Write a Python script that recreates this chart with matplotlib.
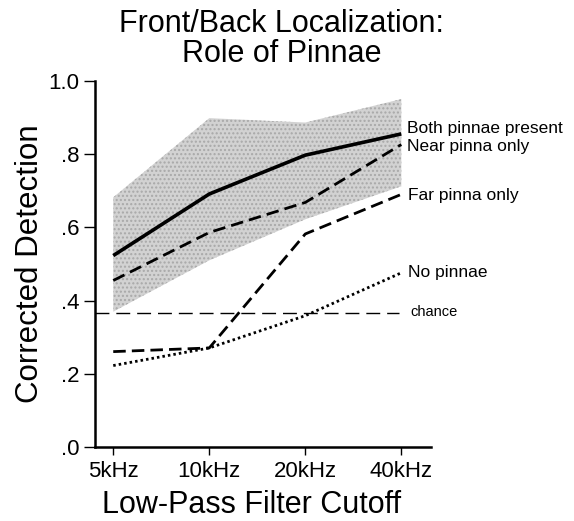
import matplotlib
matplotlib.use('Agg')
import matplotlib.pyplot as plt

plt.rcParams['font.family'] = ['Liberation Sans', 'DejaVu Sans']

# data
cutoffs = ['5kHz', '10kHz', '20kHz', '40kHz']
both_pinnae = [0.523, 0.691, 0.797, 0.855]
near_pinna = [0.455, 0.586, 0.668, 0.826]
far_pinna = [0.261, 0.271, 0.582, 0.690]
no_pinnae = [0.223, 0.271, 0.359, 0.476]
band_upper = [0.682, 0.898, 0.886, 0.950]
band_lower = [0.370, 0.510, 0.622, 0.712]
chance = 0.366
yticks = [0.0, 0.2, 0.4, 0.6, 0.8, 1.0]
ytick_labels = ['.0', '.2', '.4', '.6', '.8', '1.0']

x = list(range(len(cutoffs)))

fig = plt.figure(figsize=(5.74, 5.21), dpi=100)
ax = fig.add_axes([0.1655, 0.1415, 0.5855, 0.7035])

# shaded range for intact pinnae
ax.fill_between(x, band_lower, band_upper, facecolor='#d2d2d2',
                edgecolor='#a8a8a8', hatch='....', linewidth=0, zorder=1)

ax.plot(x, both_pinnae, color='black', lw=2.6, solid_capstyle='butt', zorder=3)
ax.plot(x, near_pinna, color='black', lw=2.0, dashes=(4.5, 2.2), zorder=3)
ax.plot(x, far_pinna, color='black', lw=2.0, dashes=(4.5, 2.2), zorder=3)
ax.plot(x, no_pinnae, color='black', lw=2.0, dashes=(0.9, 1.1), zorder=3)

xmin, xmax = -0.19, 3.31
ax.plot([xmin, 2.98], [chance, chance], color='black', lw=1.0,
        dashes=(10, 5), zorder=2)

# line labels
ax.text(3.06, both_pinnae[-1] + 0.014, 'Both pinnae present', fontsize=12.5,
        va='center', ha='left')
ax.text(3.06, near_pinna[-1] - 0.006, 'Near pinna only', fontsize=12.5,
        va='center', ha='left')
ax.text(3.07, far_pinna[-1] - 0.004, 'Far pinna only', fontsize=12.5,
        va='center', ha='left')
ax.text(3.07, no_pinnae[-1] + 0.0, 'No pinnae', fontsize=12.5,
        va='center', ha='left')
ax.text(3.09, chance + 0.002, 'chance', fontsize=10.5, va='center', ha='left')

ax.set_xlim(xmin, xmax)
ax.set_ylim(0, 1.0)
ax.set_xticks(x)
ax.set_xticklabels(cutoffs, fontsize=16)
ax.set_yticks(yticks)
ax.set_yticklabels(ytick_labels, fontsize=16)

for side in ['top', 'right']:
    ax.spines[side].set_visible(False)
for side in ['left', 'bottom']:
    ax.spines[side].set_linewidth(1.8)
ax.tick_params(axis='y', direction='out', length=8, width=1.0, pad=3)
ax.tick_params(axis='x', direction='out', length=6, width=1.0, pad=4)

ax.set_xlabel('Low-Pass Filter Cutoff', fontsize=22)
ax.xaxis.set_label_coords(0.465, -0.117)
ax.set_ylabel('Corrected Detection', fontsize=22.5)
ax.yaxis.set_label_coords(-0.15, 0.5)

fig.text(0.49, 0.982, 'Front/Back Localization:\nRole of Pinnae', fontsize=22,
         ha='center', va='top', linespacing=0.98)

fig.savefig('out.png', dpi=100)
